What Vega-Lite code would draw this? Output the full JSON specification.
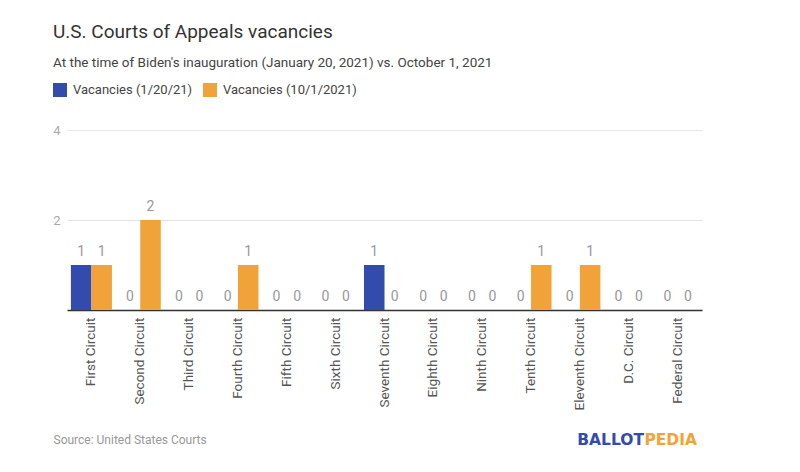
{
  "$schema": "https://vega.github.io/schema/vega-lite/v6.json",
  "width": 635,
  "height": 180,
  "autosize": "none",
  "padding": {"left": 67, "top": 130, "right": 98, "bottom": 162},
  "background": "white",
  "config": {"font": "Roboto", "view": {"stroke": null}},
  "title": {
    "text": "U.S. Courts of Appeals vacancies",
    "subtitle": "At the time of Biden's inauguration (January 20, 2021) vs. October 1, 2021",
    "anchor": "start",
    "frame": "group",
    "dx": -14,
    "offset": 14,
    "fontSize": 19,
    "fontWeight": "normal",
    "color": "#333333",
    "subtitleFontSize": 13.5,
    "subtitleColor": "#444444",
    "subtitlePadding": 14
  },
  "data": {
    "values": [
      {"circuit": "First Circuit", "series": "Vacancies (1/20/21)", "value": 1},
      {"circuit": "First Circuit", "series": "Vacancies (10/1/2021)", "value": 1},
      {"circuit": "Second Circuit", "series": "Vacancies (1/20/21)", "value": 0},
      {"circuit": "Second Circuit", "series": "Vacancies (10/1/2021)", "value": 2},
      {"circuit": "Third Circuit", "series": "Vacancies (1/20/21)", "value": 0},
      {"circuit": "Third Circuit", "series": "Vacancies (10/1/2021)", "value": 0},
      {"circuit": "Fourth Circuit", "series": "Vacancies (1/20/21)", "value": 0},
      {"circuit": "Fourth Circuit", "series": "Vacancies (10/1/2021)", "value": 1},
      {"circuit": "Fifth Circuit", "series": "Vacancies (1/20/21)", "value": 0},
      {"circuit": "Fifth Circuit", "series": "Vacancies (10/1/2021)", "value": 0},
      {"circuit": "Sixth Circuit", "series": "Vacancies (1/20/21)", "value": 0},
      {"circuit": "Sixth Circuit", "series": "Vacancies (10/1/2021)", "value": 0},
      {"circuit": "Seventh Circuit", "series": "Vacancies (1/20/21)", "value": 1},
      {"circuit": "Seventh Circuit", "series": "Vacancies (10/1/2021)", "value": 0},
      {"circuit": "Eighth Circuit", "series": "Vacancies (1/20/21)", "value": 0},
      {"circuit": "Eighth Circuit", "series": "Vacancies (10/1/2021)", "value": 0},
      {"circuit": "Ninth Circuit", "series": "Vacancies (1/20/21)", "value": 0},
      {"circuit": "Ninth Circuit", "series": "Vacancies (10/1/2021)", "value": 0},
      {"circuit": "Tenth Circuit", "series": "Vacancies (1/20/21)", "value": 0},
      {"circuit": "Tenth Circuit", "series": "Vacancies (10/1/2021)", "value": 1},
      {"circuit": "Eleventh Circuit", "series": "Vacancies (1/20/21)", "value": 0},
      {"circuit": "Eleventh Circuit", "series": "Vacancies (10/1/2021)", "value": 1},
      {"circuit": "D.C. Circuit", "series": "Vacancies (1/20/21)", "value": 0},
      {"circuit": "D.C. Circuit", "series": "Vacancies (10/1/2021)", "value": 0},
      {"circuit": "Federal Circuit", "series": "Vacancies (1/20/21)", "value": 0},
      {"circuit": "Federal Circuit", "series": "Vacancies (10/1/2021)", "value": 0}
    ]
  },
  "encoding": {
    "x": {
      "field": "circuit",
      "type": "nominal",
      "sort": null,
      "scale": {"paddingInner": 0.16, "paddingOuter": 0.08},
      "axis": {
        "title": "Source: United States Courts",
        "titleAnchor": "start",
        "titleAlign": "left",
        "titleX": -14,
        "titleY": 133,
        "titleBaseline": "alphabetic",
        "titleFontSize": 12,
        "titleFontWeight": "normal",
        "titleColor": "#999999",
        "labelAngle": -90,
        "labelFontSize": 13.5,
        "labelColor": "#555555",
        "labelPadding": 7,
        "ticks": false,
        "domainColor": "#333333",
        "domainWidth": 1.5
      }
    },
    "xOffset": {
      "field": "series",
      "type": "nominal",
      "scale": {"domain": ["Vacancies (1/20/21)", "Vacancies (10/1/2021)"]}
    },
    "y": {
      "field": "value",
      "type": "quantitative",
      "scale": {"domain": [0, 4]},
      "axis": {
        "title": null,
        "values": [2, 4],
        "labelFontSize": 13,
        "labelColor": "#aaaaaa",
        "labelPadding": 7,
        "ticks": false,
        "domain": false,
        "gridColor": "#e4e4e4"
      }
    }
  },
  "layer": [
    {
      "mark": {"type": "bar"},
      "encoding": {
        "color": {
          "field": "series",
          "type": "nominal",
          "scale": {
            "domain": ["Vacancies (1/20/21)", "Vacancies (10/1/2021)"],
            "range": ["#334bad", "#f1a33a"]
          },
          "legend": {
            "title": null,
            "orient": "none",
            "legendX": -14,
            "legendY": -47,
            "direction": "horizontal",
            "symbolType": "square",
            "symbolSize": 196,
            "symbolStrokeWidth": 0,
            "symbolOpacity": 1,
            "labelFontSize": 13,
            "labelColor": "#444444",
            "labelOffset": 6,
            "columnPadding": 10
          }
        }
      }
    },
    {
      "mark": {"type": "text", "dy": -13, "fontSize": 14, "color": "#999999", "baseline": "middle"},
      "encoding": {"text": {"field": "value", "type": "quantitative"}}
    },
    {
      "data": {"values": [{"part": "PEDIA"}]},
      "mark": {"type": "text", "x": {"expr": "width - 5"}, "y": {"expr": "height + 135"}, "align": "right", "baseline": "alphabetic", "font": "DejaVu Sans", "fontSize": 15.5, "fontWeight": "bold", "color": "#f1a33a"},
      "encoding": {"text": {"field": "part"}, "x": null, "y": null, "xOffset": null}
    },
    {
      "data": {"values": [{"part": "BALLOT"}]},
      "mark": {"type": "text", "x": {"expr": "width - 58"}, "y": {"expr": "height + 135"}, "align": "right", "baseline": "alphabetic", "font": "DejaVu Sans", "fontSize": 15.5, "fontWeight": "bold", "color": "#334bad"},
      "encoding": {"text": {"field": "part"}, "x": null, "y": null, "xOffset": null}
    }
  ]
}
